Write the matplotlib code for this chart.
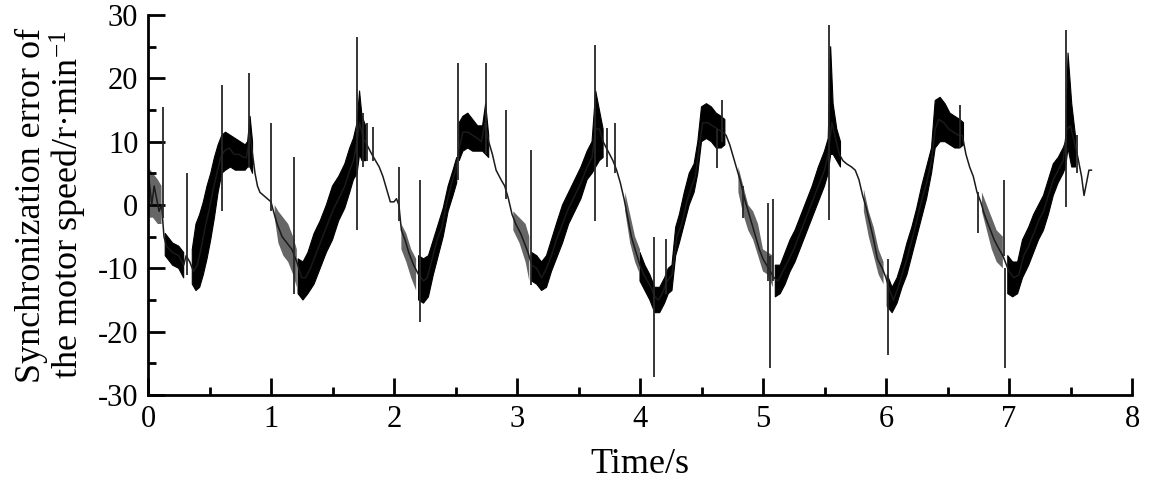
import numpy as np
import matplotlib
matplotlib.use("Agg")
import matplotlib.pyplot as plt
from matplotlib.ticker import MultipleLocator

# ---- main trace (centre of the signal) ----
time_s = [0.00, 0.02, 0.03, 0.05, 0.07, 0.09, 0.11, 0.13, 0.15, 0.20, 0.25, 0.29, 0.31, 0.34, 0.37, 0.40,
          0.43, 0.47, 0.50, 0.53, 0.56, 0.59, 0.62, 0.66, 0.70, 0.74, 0.78, 0.80, 0.83, 0.85, 0.87, 0.89,
          0.91, 0.94, 0.97, 1.00, 1.02, 1.05, 1.09, 1.13, 1.17, 1.21, 1.25, 1.28, 1.32, 1.36, 1.40, 1.45,
          1.50, 1.55, 1.60, 1.64, 1.67, 1.70, 1.72, 1.75, 1.78, 1.82, 1.85, 1.88, 1.91, 1.94, 1.97, 2.00,
          2.02, 2.04, 2.06, 2.09, 2.12, 2.16, 2.20, 2.24, 2.27, 2.31, 2.35, 2.39, 2.43, 2.47, 2.50, 2.53,
          2.56, 2.60, 2.64, 2.68, 2.71, 2.74, 2.77, 2.80, 2.83, 2.87, 2.90, 2.93, 2.96, 2.99, 3.03, 3.06,
          3.09, 3.12, 3.16, 3.20, 3.24, 3.28, 3.32, 3.37, 3.42, 3.47, 3.52, 3.57, 3.61, 3.64, 3.67, 3.70,
          3.74, 3.78, 3.81, 3.84, 3.87, 3.90, 3.93, 3.96, 4.00, 4.03, 4.06, 4.09, 4.12, 4.15, 4.18, 4.22,
          4.26, 4.30, 4.34, 4.38, 4.42, 4.45, 4.48, 4.51, 4.55, 4.59, 4.63, 4.67, 4.70, 4.73, 4.76, 4.79,
          4.82, 4.85, 4.88, 4.91, 4.94, 4.97, 5.00, 5.03, 5.06, 5.09, 5.12, 5.16, 5.20, 5.25, 5.30, 5.35,
          5.40, 5.45, 5.50, 5.53, 5.56, 5.59, 5.62, 5.65, 5.68, 5.72, 5.75, 5.78, 5.81, 5.84, 5.87, 5.90,
          5.93, 5.97, 6.00, 6.03, 6.06, 6.09, 6.13, 6.17, 6.21, 6.25, 6.28, 6.33, 6.37, 6.40, 6.43, 6.47,
          6.51, 6.55, 6.59, 6.62, 6.65, 6.68, 6.71, 6.74, 6.77, 6.80, 6.84, 6.88, 6.92, 6.95, 7.00, 7.04,
          7.08, 7.12, 7.16, 7.20, 7.24, 7.28, 7.32, 7.36, 7.40, 7.44, 7.47, 7.50, 7.53, 7.56, 7.59, 7.61,
          7.63, 7.65, 7.67]
speed_error = [5.5, 2, 0, 3, 1, -1, 0, -5, -6.5, -7.5, -8, -9.5, -8, -9, -10.5, -9.5,
               -7, -3, -0.5, 2.5, 5, 7.5, 8.5, 9, 8, 8, 7.5, 7.5, 11, 8, 5, 3,
               2, 1.5, 1, 0.5, -1, -3, -5, -6, -7, -9, -11.5, -11.5, -10, -8, -6, -3.5,
               -1, 1, 3, 5.5, 7, 10, 13, 10.5, 9.5, 8, 7, 6, 4.5, 2.5, 0.5, 0.5,
               1, 0, -4, -5.5, -7.5, -9.5, -11, -12, -11.5, -8.5, -5.5, -3.5, 0.5, 3.5, 5.5, 9,
               11.5, 11.5, 11, 10.5, 10, 13, 10, 8, 5.5, 4, 3, 1, -1.5, -3, -4.5, -6,
               -7.5, -9.5, -10, -11.5, -10, -8, -5.5, -3, -0.5, 1.5, 3.5, 6, 7.5, 12, 12, 10,
               8.5, 7, 5.5, 3.5, 1, -2, -5, -7, -9.5, -11, -12, -13, -14.5, -15, -14, -12,
               -11, -5, -3, 0.5, 3, 4.5, 9, 13, 13, 12.5, 12, 11.5, 11, 9.5, 7.5, 5.5,
               3.5, 1, -1, -3, -5, -7, -8.5, -9.5, -10.5, -11.5, -12, -10.5, -9, -7, -4.5, -2,
               0.5, 3, 5.5, 8, 13, 10.5, 8, 7, 6.5, 6, 5.5, 4, 1.5, -0.5, -3, -5.5,
               -8.5, -10, -11.5, -13.5, -15, -13.5, -11, -8.5, -5.5, -2.5, 0, 3.5, 7, 12, 13.5, 13,
               12, 11.5, 11, 11, 8, 6, 4.5, 2, 0.5, -1.5, -3.5, -5.5, -7, -8, -10.5, -11.5,
               -11, -8, -6.5, -4.5, -2.5, -1, 1.5, 4, 5.5, 7, 12, 12.5, 10, 7.5, 4.5, 1.5,
               3.5, 5.5, 5.5]

# ---- dense oscillation envelope (black band), NaN separates segments ----
nan = np.nan
dense_t = [0.14, 0.20, 0.25, 0.29, 0.30,
           0.36, 0.39, 0.42, 0.45, 0.48, 0.51, 0.54, 0.57, 0.60, 0.63, 0.67, 0.71, 0.75, 0.79, 0.81, 0.83, 0.85, 0.86,
           1.22, 1.26, 1.30, 1.35, 1.40, 1.45, 1.50, 1.55, 1.60, 1.64, 1.67, 1.70, 1.72, 1.74, 1.77, 1.78,
           2.20, 2.24, 2.28, 2.32, 2.36, 2.40, 2.44, 2.48, 2.51, 2.52,
           2.53, 2.56, 2.60, 2.64, 2.68, 2.72, 2.745, 2.77, 2.78,
           3.12, 3.16, 3.20, 3.24, 3.28, 3.32, 3.37, 3.42, 3.47, 3.52, 3.57, 3.61, 3.64, 3.67, 3.70, 3.71,
           4.00, 4.04, 4.08, 4.12, 4.16, 4.20, 4.23, 4.26, 4.29, 4.32, 4.36, 4.40, 4.44, 4.47, 4.50, 4.54, 4.58,
           4.62, 4.66, 4.69, 4.70,
           5.10, 5.14, 5.18, 5.22, 5.26, 5.30, 5.35, 5.40, 5.45, 5.50, 5.53, 5.55, 5.57, 5.60, 5.63, 5.64,
           6.01, 6.05, 6.09, 6.13, 6.17, 6.21, 6.25, 6.29, 6.33, 6.37, 6.40, 6.44, 6.48, 6.52, 6.56, 6.60,
           6.63, 6.64,
           6.99, 7.03, 7.07, 7.11, 7.16, 7.20, 7.24, 7.28, 7.32, 7.36, 7.40, 7.44, 7.46, 7.48, 7.51, 7.54]
dense_lo = [-8, -9.5, -10, -11.5, nan,
            -12.5, -13.5, -13, -11, -8.5, -5.5, -2, 2, 5, 5.5, 6, 5.5, 5.5, 5.5, 6, 6, 5, nan,
            -14, -15, -14, -12.5, -10, -7.5, -5.5, -2.5, -0.5, 2, 4, 5, 8, 7, 7, nan,
            -15, -15.5, -14.5, -11, -8, -5, -1, 1.5, 3.5, nan,
            7, 8.5, 9, 8.5, 8.5, 8.5, 8, 7.5, nan,
            -12, -12.5, -13.5, -13, -10.5, -8.5, -6, -3, -1, 1, 4, 5, 6, 7, 7.5, nan,
            -12, -13.5, -15, -17, -17, -15.5, -14, -13.5, -8, -6, -3, 0, 2, 5, 10, 10.5, 10,
            9, 9, 9.5, nan,
            -14.5, -14, -12.5, -10.5, -9, -7, -4.5, -2, 0.5, 3, 5, 8, 8, 7, 6, nan,
            -16, -17, -15.5, -13, -11, -8, -5, -2, 1, 5, 9, 10, 10, 9.5, 9, 9,
            9.5, nan,
            -14, -14.5, -14, -11.5, -9.5, -7.5, -5.5, -4, -1.5, 1.5, 3.5, 5, 6, 9, 6, 6]
dense_hi = [-4.5, -6, -6.5, -7.5, nan,
            -7, -3, -1.5, 0.5, 3, 5, 7.5, 9.5, 11, 11.5, 11, 10.5, 10, 9.5, 10, 14, 10, nan,
            -8.5, -9, -7.5, -4.5, -2.5, 0, 3, 4.5, 6.5, 9, 10.5, 13, 18, 14, 12.5, nan,
            -8, -8.5, -8, -5.5, -3, -0.5, 3, 5.5, 7.5, nan,
            13, 14, 14.5, 13.5, 12.5, 12.5, 16, 11, nan,
            -7.5, -8, -9, -8, -5.5, -3, 0, 2, 4, 6, 8.5, 10, 18, 15, 12, nan,
            -7.5, -9.5, -11, -13, -13, -11.5, -10, -9.5, -3.5, -1.5, 2, 5, 6.5, 10, 15.5, 16, 15.5,
            14.5, 14, 13.5, nan,
            -9.5, -9.5, -7.5, -5.5, -4, -2, 0.5, 3, 6, 8.5, 10.5, 25, 16, 12, 10, nan,
            -11, -13, -11.5, -9, -6, -3.5, -0.5, 3, 6, 9, 16.5, 17, 16, 14.5, 14, 13.5,
            13, nan,
            -8, -9, -9, -5.5, -3.5, -1.5, 0, 1.5, 4, 6.5, 7.5, 9, 10, 24, 16, 11]

# ---- sparse (thin, noisy) oscillation envelope ----
sparse_t = [0.00, 0.04, 0.08, 0.11, 0.12,
            1.03, 1.06, 1.10, 1.14, 1.18, 1.21, 1.22,
            2.06, 2.10, 2.14, 2.18, 2.20,
            2.97, 3.02, 3.07, 3.10, 3.11,
            3.88, 3.92, 3.96, 4.00, 4.01,
            4.80, 4.84, 4.88, 4.92, 4.96, 5.00, 5.04, 5.08, 5.10,
            5.82, 5.86, 5.90, 5.94, 5.98, 6.00,
            6.78, 6.82, 6.86, 6.90, 6.95]
sparse_lo = [-2, -2, -3, -3, nan,
             -2, -6, -8, -9, -11, -13, nan,
             -7, -9, -11.5, -13.5, nan,
             -4, -6, -9, -12, nan,
             -1, -6, -9, -11, nan,
             2, -1.5, -4, -5.5, -8, -10.5, -11, -13, nan,
             -1, -5, -8, -11, -12.5, nan,
             -1, -4, -7, -9, -10]
sparse_hi = [6, 5, 4, 3, nan,
             0, -1, -2, -3, -5, -7, nan,
             -3, -4.5, -7, -8.5, nan,
             -1, -2, -3, -5, nan,
             2, -1.5, -5, -7, nan,
             6, 3, 0, -1, -3, -7, -7.5, -8, nan,
             2.5, -1, -3.5, -7, -9, nan,
             2, 0, -2, -4, -5]

# ---- isolated spikes ----
spike_t = [0.12, 0.32, 0.605, 0.82, 1.00, 1.19, 1.70, 1.75, 1.78, 1.83, 2.04, 2.21, 2.52, 2.745, 2.91,
           3.11, 3.635, 3.73, 3.80, 4.115, 4.21, 4.63, 4.67, 4.84, 5.04, 5.055, 5.08, 5.54, 6.02, 6.60,
           6.75, 6.96, 6.97, 7.465, 7.55]
spike_lo = [-2, -11, -1, 6, -1, -14, -4, 6, 7, 7, -2.6, -18.5, 4, 8, 1,
            -12.6, -2.6, 6, 5, -27.2, -14, 5.9, 10, -2, -12, -25.8, -12, -2.4, -23.7, 9,
            -4.4, -8, -25.8, -0.3, 5]
spike_hi = [15.5, 5, 19, 20.8, 13, 7.6, 26.5, 14.5, 13, 12.3, 6, 4, 22.4, 22.4, 15,
            8.7, 25.3, 12.1, 12.9, -5, -5.4, 12, 16.6, 3, 0.3, -8, 1, 28.4, -8.5, 15.8,
            2, 4, -10, 27.6, 11]

x_ticks = [0, 1, 2, 3, 4, 5, 6, 7, 8]
y_ticks = [-30, -20, -10, 0, 10, 20, 30]
x_label = "Time/s"
y_label = "Synchronization error of\nthe motor speed/r\u00b7min$\\mathregular{^{-1}}$"

plt.rcParams['font.family'] = ['Liberation Serif', 'DejaVu Serif']
plt.rcParams['mathtext.fontset'] = 'custom'
plt.rcParams['mathtext.rm'] = 'Liberation Serif'
plt.rcParams['axes.unicode_minus'] = False

fig = plt.figure(figsize=(11.5, 4.87), dpi=100)
ax = fig.add_axes([148 / 1150, (487 - 395) / 487, (1132 - 148) / 1150, (395 - 15) / 487])

ax.fill_between(dense_t, dense_lo, dense_hi, color='black', lw=0.8, edgecolor='black')
ax.fill_between(sparse_t, sparse_lo, sparse_hi, color='0.4', lw=0)
ax.plot(time_s, speed_error, color='0.1', lw=1.1)
ax.vlines(spike_t, spike_lo, spike_hi, color='0.15', lw=1.3)

ax.set_xlim(0, 8)
ax.set_ylim(-30, 30)
ax.set_xticks(x_ticks)
ax.set_yticks(y_ticks)
ax.xaxis.set_minor_locator(MultipleLocator(0.5))
ax.yaxis.set_minor_locator(MultipleLocator(5))
ax.tick_params(which='major', direction='in', length=12, width=2, labelsize=22, pad=7)
ax.tick_params(which='minor', direction='in', length=6, width=2)
for side in ['top', 'right']:
    ax.spines[side].set_visible(False)
for side in ['left', 'bottom']:
    ax.spines[side].set_linewidth(2)

ax.set_xlabel(x_label, fontsize=26, labelpad=10)
ax.set_ylabel(y_label, fontsize=26, labelpad=6, linespacing=1.0)

fig.savefig("out.png", dpi=100)
